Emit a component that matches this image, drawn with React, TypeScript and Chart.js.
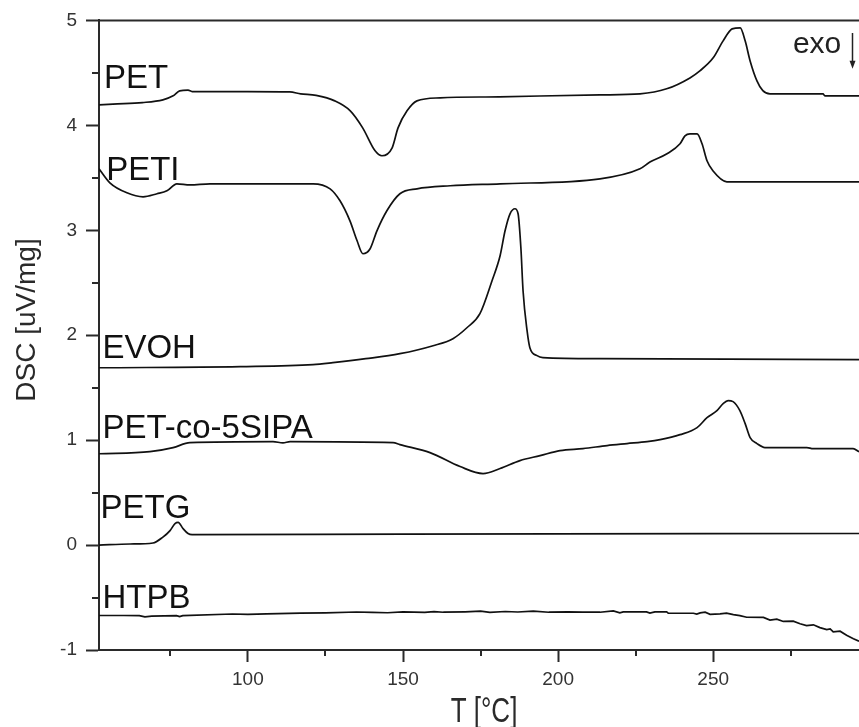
import React, { useEffect, useRef } from 'react';
import { Chart, registerables } from 'chart.js';

Chart.register(...registerables);

// ---- data (temperature in °C, DSC signal in uV/mg) ----
const PET_T = [52, 56.5, 66, 72.6, 75.9, 78, 80.7, 82, 100, 113.5, 117, 122, 128, 133, 137, 141, 143.2, 146.5, 148.4, 151.3, 154.5, 162, 181, 213.5, 226.4, 235, 242.5, 245.7, 250, 253.2, 256.1, 258.7, 260.3, 261.9, 264.1, 266, 268.3, 285.4, 286, 297];
const PET_V = [4.195, 4.203, 4.217, 4.243, 4.281, 4.329, 4.335, 4.322, 4.322, 4.318, 4.30, 4.285, 4.233, 4.138, 3.976, 3.757, 3.71, 3.786, 3.976, 4.138, 4.233, 4.262, 4.272, 4.29, 4.30, 4.348, 4.452, 4.519, 4.643, 4.805, 4.919, 4.929, 4.805, 4.614, 4.424, 4.33, 4.30, 4.30, 4.281, 4.281];

const PETI_T = [52, 55.5, 61, 66.2, 70.7, 73.9, 77.1, 81.3, 87.8, 121, 126.5, 129.7, 132.9, 135.2, 137.1, 139.4, 141.6, 144.8, 149, 154.5, 165.2, 181.3, 213.5, 226.4, 229.6, 235.1, 239.3, 240.9, 242.5, 244.8, 246.4, 248, 249.9, 254.4, 297];
const PETI_V = [3.586, 3.452, 3.357, 3.319, 3.348, 3.376, 3.443, 3.433, 3.443, 3.443, 3.395, 3.281, 3.09, 2.9, 2.776, 2.824, 2.995, 3.186, 3.348, 3.395, 3.424, 3.443, 3.49, 3.586, 3.65, 3.729, 3.824, 3.9, 3.919, 3.919, 3.824, 3.662, 3.567, 3.462, 3.462];

const EVOH_T = [52, 97.5, 121, 127.4, 138, 149, 159.7, 166.1, 170.6, 174.8, 178.7, 181.3, 182.9, 184.5, 186.1, 187.1, 188, 188.7, 190, 190.9, 193.2, 195.1, 213.5, 297];
const EVOH_V = [1.69, 1.70, 1.719, 1.738, 1.776, 1.824, 1.90, 1.967, 2.071, 2.205, 2.519, 2.757, 2.995, 3.157, 3.205, 3.157, 2.833, 2.424, 2.043, 1.881, 1.805, 1.786, 1.776, 1.767];

const SIPA_T = [52, 68.4, 75.9, 81.3, 108.1, 111.3, 113.6, 146.8, 149, 158.7, 168.4, 175.8, 181.3, 187.7, 194.2, 200.6, 208, 215.8, 222.2, 228.7, 232.9, 239.3, 244.8, 248, 251.2, 253.2, 254.8, 256.4, 258.6, 260.3, 261.9, 264.1, 266.7, 280.2, 282.2, 295.1, 297];
const SIPA_V = [0.87, 0.89, 0.929, 0.976, 0.986, 0.974, 0.986, 0.976, 0.957, 0.881, 0.748, 0.681, 0.729, 0.805, 0.852, 0.90, 0.919, 0.948, 0.967, 0.986, 1.005, 1.052, 1.119, 1.214, 1.281, 1.348, 1.376, 1.367, 1.281, 1.157, 1.024, 0.967, 0.929, 0.929, 0.919, 0.919, 0.89];

const PETG_T = [52, 62, 69.4, 72.6, 74.9, 76.5, 77.5, 79.1, 80.7, 82, 150, 297];
const PETG_V = [0.0, 0.01, 0.02, 0.076, 0.138, 0.205, 0.217, 0.157, 0.11, 0.10, 0.105, 0.11];

const HTPB_T = [52, 60, 65, 66.8, 69, 77, 78, 79, 95, 100, 106, 117, 125, 135, 140, 145, 150, 157, 160, 163, 170, 175, 178, 183, 187, 192, 197, 203, 208, 213.5, 217.8, 219.9, 221, 228.5, 229.6, 231.2, 235, 235.5, 243.6, 244.7, 245.8, 247.4, 249, 252.2, 254.3, 256.5, 258.6, 260.8, 266.2, 268.3, 270.5, 272.6, 275.8, 278, 280.1, 282.3, 284.4, 286.6, 287.7, 288.7, 290.9, 293, 295.2, 297];
const HTPB_V = [-0.671, -0.671, -0.672, -0.684, -0.678, -0.672, -0.682, -0.672, -0.657, -0.66, -0.655, -0.648, -0.646, -0.638, -0.641, -0.645, -0.637, -0.641, -0.634, -0.64, -0.636, -0.63, -0.641, -0.633, -0.638, -0.63, -0.64, -0.636, -0.64, -0.64, -0.628, -0.646, -0.637, -0.637, -0.648, -0.637, -0.637, -0.648, -0.65, -0.658, -0.646, -0.64, -0.66, -0.655, -0.649, -0.663, -0.672, -0.688, -0.69, -0.715, -0.706, -0.728, -0.725, -0.75, -0.768, -0.76, -0.787, -0.806, -0.799, -0.828, -0.821, -0.86, -0.892, -0.916];

const SERIES_NAMES = ['PET', 'PETI', 'EVOH', 'PET-co-5SIPA', 'PETG', 'HTPB'];
const LABEL_T = [53.6, 54.3, 53.1, 53.1, 52.5, 53.1];
const LABEL_V = [4.357, 3.481, 1.786, 1.024, 0.262, -0.595];

const X_TICKS = [100, 150, 200, 250];
const X_MINOR = [75, 125, 175, 225, 275];
const Y_TICKS = [-1, 0, 1, 2, 3, 4, 5];
const Y_MINOR = [-0.5, 0.5, 1.5, 2.5, 3.5, 4.5];
const X_MIN = 52;
const X_MAX = 297;
const Y_MIN = -1;
const Y_MAX = 5;

const X_TITLE = 'T [°C]';
const Y_TITLE = 'DSC [uV/mg]';
const EXO_TEXT = 'exo';
const EXO_POS = { t: 275.7, v: 4.69 };
const EXO_ARROW = { t: 294.7, v0: 4.88, v1: 4.54 };

const FONT = '"Liberation Sans", Arial, Helvetica, sans-serif';
const AXIS_COLOR = '#2a2a2a';

const decorPlugin = {
  id: 'decor',
  afterDraw(chart: any) {
    const { ctx, chartArea } = chart;
    const xs = chart.scales.x;
    const ys = chart.scales.y;
    ctx.save();
    // top frame line
    ctx.strokeStyle = AXIS_COLOR;
    ctx.lineWidth = 2;
    ctx.beginPath();
    ctx.moveTo(chartArea.left - 1, chartArea.top);
    ctx.lineTo(chartArea.right, chartArea.top);
    ctx.stroke();
    // minor ticks
    ctx.beginPath();
    Y_MINOR.forEach((v) => {
      const py = Math.round(ys.getPixelForValue(v));
      ctx.moveTo(chartArea.left, py);
      ctx.lineTo(chartArea.left - 7, py);
    });
    X_MINOR.forEach((t) => {
      const px = Math.round(xs.getPixelForValue(t));
      ctx.moveTo(px, chartArea.bottom);
      ctx.lineTo(px, chartArea.bottom + 6);
    });
    ctx.stroke();

    // series labels
    ctx.fillStyle = '#111';
    ctx.font = `33px ${FONT}`;
    ctx.textAlign = 'left';
    ctx.textBaseline = 'alphabetic';
    SERIES_NAMES.forEach((name, i) => {
      ctx.fillText(name, xs.getPixelForValue(LABEL_T[i]), ys.getPixelForValue(LABEL_V[i]));
    });

    // exo arrow
    ctx.font = `30px ${FONT}`;
    ctx.fillStyle = '#222';
    ctx.fillText(EXO_TEXT, xs.getPixelForValue(EXO_POS.t), ys.getPixelForValue(EXO_POS.v));
    const ax = Math.round(xs.getPixelForValue(EXO_ARROW.t)) + 0.5;
    const ay0 = ys.getPixelForValue(EXO_ARROW.v0);
    const ay1 = ys.getPixelForValue(EXO_ARROW.v1);
    ctx.strokeStyle = '#222';
    ctx.lineWidth = 1.5;
    ctx.beginPath();
    ctx.moveTo(ax, ay0);
    ctx.lineTo(ax, ay1 - 6);
    ctx.stroke();
    ctx.beginPath();
    ctx.moveTo(ax - 3, ay1 - 8);
    ctx.lineTo(ax + 3, ay1 - 8);
    ctx.lineTo(ax, ay1);
    ctx.closePath();
    ctx.fill();

    // axis titles
    ctx.fillStyle = '#2a2a2a';
    ctx.font = `28px ${FONT}`;
    ctx.save();
    ctx.translate(35, 320);
    ctx.rotate(-Math.PI / 2);
    ctx.textAlign = 'center';
    ctx.fillText(Y_TITLE, 0, 0);
    ctx.restore();

    ctx.save();
    ctx.font = `26px ${FONT}`;
    ctx.translate(484, 722);
    ctx.scale(1, 1.35);
    ctx.textAlign = 'center';
    ctx.fillText(X_TITLE, 0, 0);
    ctx.restore();

    ctx.restore();
  },
};

function makeData(t: number[], v: number[]) {
  return t.map((x, i) => ({ x, y: v[i] }));
}

export default function App() {
  const ref = useRef<HTMLCanvasElement | null>(null);
  useEffect(() => {
    if (!ref.current) return;
    const series = [
      [PET_T, PET_V],
      [PETI_T, PETI_V],
      [EVOH_T, EVOH_V],
      [SIPA_T, SIPA_V],
      [PETG_T, PETG_V],
      [HTPB_T, HTPB_V],
    ];
    const datasets = series.map(([t, v], i) => ({
      label: SERIES_NAMES[i],
      data: makeData(t, v),
      borderColor: '#111',
      borderWidth: 1.7,
      pointRadius: 0,
      fill: false,
      cubicInterpolationMode: i === 5 ? 'default' : 'monotone',
      tension: 0,
    }));
    const chart = new Chart(ref.current, {
      type: 'line',
      data: { datasets } as any,
      options: {
        animation: false,
        responsive: false,
        layout: { padding: { top: 19, right: 0, left: 0, bottom: 0 } },
        plugins: { legend: { display: false }, tooltip: { enabled: false } },
        scales: {
          x: {
            type: 'linear',
            min: X_MIN,
            max: X_MAX,
            afterBuildTicks: (s: any) => {
              s.ticks = X_TICKS.map((value) => ({ value }));
            },
            afterFit: (s: any) => {
              s.height = 77;
            },
            grid: { drawOnChartArea: false, drawTicks: true, tickLength: 12, tickColor: AXIS_COLOR, tickWidth: 2 },
            border: { display: true, color: AXIS_COLOR, width: 2 },
            ticks: { font: { family: FONT, size: 19 }, color: '#333', padding: 6, maxRotation: 0, autoSkip: false },
          },
          y: {
            type: 'linear',
            min: Y_MIN,
            max: Y_MAX,
            afterBuildTicks: (s: any) => {
              s.ticks = Y_TICKS.map((value) => ({ value }));
            },
            afterFit: (s: any) => {
              s.width = 99;
            },
            grid: { drawOnChartArea: false, drawTicks: true, tickLength: 13, tickColor: AXIS_COLOR, tickWidth: 2 },
            border: { display: true, color: AXIS_COLOR, width: 2 },
            ticks: { font: { family: FONT, size: 19 }, color: '#333', padding: 9, autoSkip: false },
          },
        },
      } as any,
      plugins: [decorPlugin],
    });
    return () => chart.destroy();
  }, []);
  return (
    <div style={{ position: 'absolute', left: 0, top: 0, width: 859, height: 727, background: '#fff' }}>
      <canvas ref={ref} width={859} height={727} style={{ display: 'block' }} />
    </div>
  );
}
